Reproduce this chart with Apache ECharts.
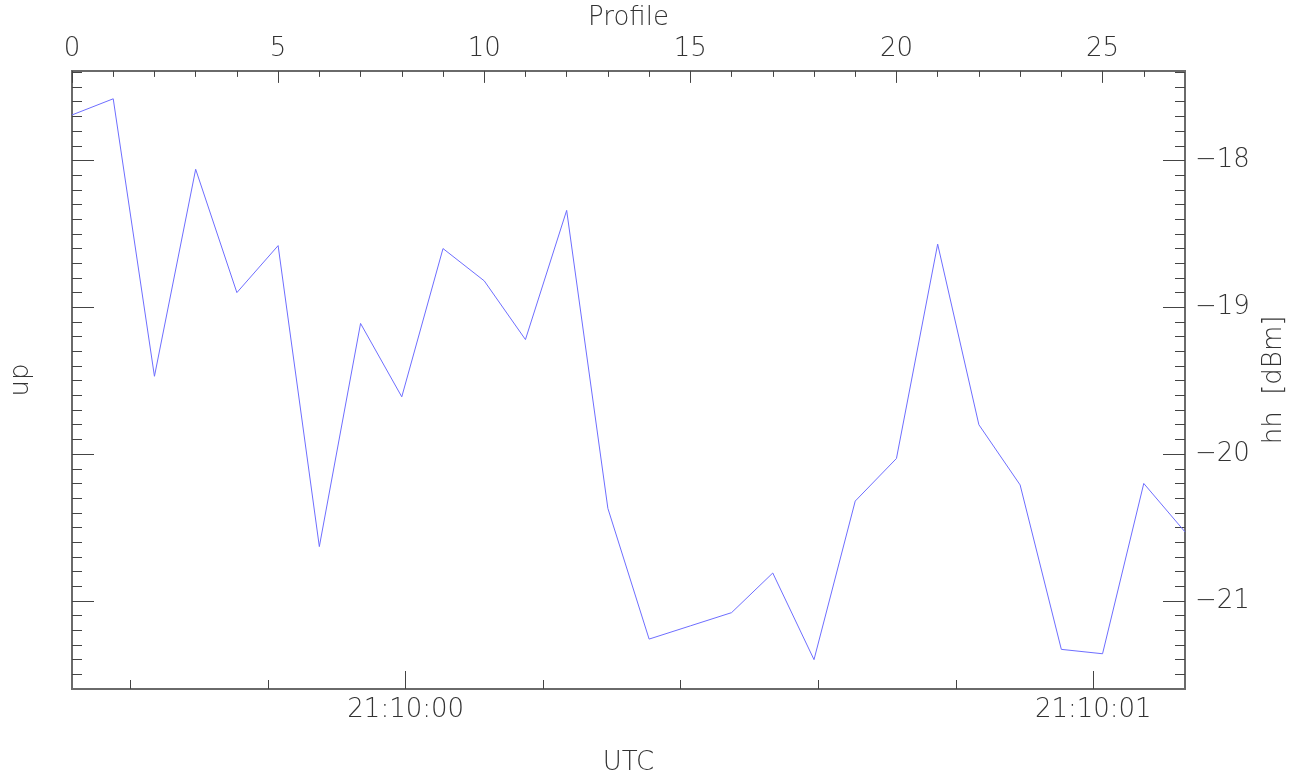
<!DOCTYPE html>
<html>
<head>
<meta charset="utf-8">
<title>Profile</title>
<script src="https://cdn.jsdelivr.net/npm/echarts@6/dist/echarts.min.js"></script>
<style>
    html, body { margin: 0; padding: 0; background: #fff; }
    #chart { width: 1308px; height: 781px; }
</style>
</head>
<body>
<div id="chart"></div>
<script>
    // profile index along the top axis
    var profiles = [0, 1, 2, 3, 4, 5, 6, 7, 8, 9, 10, 11, 12, 13, 14, 15, 16, 17, 18, 19, 20, 21, 22, 23, 24, 25, 26, 27];
    // hh power [dBm]
    var hhValues = [-17.69, -17.58, -19.47, -18.06, -18.90, -18.58, -20.63, -19.11, -19.61, -18.60,
        -18.82, -19.22, -18.34, -20.37, -21.26, -21.17, -21.08, -20.81, -21.40, -20.32,
        -20.03, -18.57, -19.80, -20.21, -21.33, -21.36, -20.20, -20.53];

    // tick labels
    var profileTicks = [0, 5, 10, 15, 20, 25];
    var profileMinorTicks = [1, 2, 3, 4, 6, 7, 8, 9, 11, 12, 13, 14, 16, 17, 18, 19, 21, 22, 23, 24, 26];
    var yMajorTicks = [-21, -20, -19, -18];
    var timeTicks = [0, 1];                     // seconds after 21:10:00
    var timeLabels = ['21:10:00', '21:10:01'];
    var timeMinorTicks = [-0.4, -0.2, 0.2, 0.4, 0.6, 0.8];

    var yMinorTicks = [];
    for (var v = -215; v <= -174; v++) {
        if (v % 10 !== 0) yMinorTicks.push(v / 10);
    }

    var FONT = 'DejaVu Sans';
    var FW = 200;
    var FS = 26;
    var TXT = '#333';
    var AXIS = '#6a6a6a';
    var TICK = '#444';

    function axisBase(extra) {
        var base = {
            type: 'value',
            splitLine: {show: false},
            axisLine: {show: true, onZero: false, lineStyle: {color: AXIS, width: 2}},
            nameTextStyle: {fontFamily: FONT, fontWeight: FW, fontSize: FS, color: TXT},
            axisLabel: {show: false}
        };
        return Object.assign(base, extra);
    }

    var chart = echarts.init(document.getElementById('chart'));
    var option = {
        animation: false,
        backgroundColor: '#fff',
        grid: {left: 72, top: 70, width: 1113, height: 622, containLabel: false},
        xAxis: [
            axisBase({
                position: 'top', min: 0, max: 27,
                name: 'Profile', nameLocation: 'middle', nameGap: 35,
                axisTick: {show: true, inside: true, length: 12, customValues: profileTicks,
                    lineStyle: {color: TICK, width: 1}},
                axisLabel: {show: true, customValues: profileTicks, margin: 9,
                    fontFamily: FONT, fontWeight: FW, fontSize: FS, color: TXT}
            }),
            axisBase({
                position: 'top', min: 0, max: 27,
                axisTick: {show: true, inside: true, length: 6, customValues: profileMinorTicks,
                    lineStyle: {color: TICK, width: 1}}
            }),
            axisBase({
                position: 'bottom', min: -0.4853, max: 1.1334,
                name: 'UTC', nameLocation: 'middle', nameGap: 61,
                axisTick: {show: true, inside: true, length: 18, customValues: timeTicks,
                    lineStyle: {color: TICK, width: 1}},
                axisLabel: {show: true, customValues: timeTicks, margin: 8,
                    fontFamily: FONT, fontWeight: FW, fontSize: FS, color: TXT,
                    formatter: function (val) {
                        return timeLabels[timeTicks.indexOf(Math.round(val))];
                    }}
            }),
            axisBase({
                position: 'bottom', min: -0.4853, max: 1.1334,
                axisTick: {show: true, inside: true, length: 9, customValues: timeMinorTicks,
                    lineStyle: {color: TICK, width: 1}}
            })
        ],
        yAxis: [
            axisBase({
                position: 'right', min: -21.6, max: -17.39,
                name: 'hh  [dBm]', nameLocation: 'middle', nameGap: 74, nameRotate: 90,
                axisTick: {show: true, inside: true, length: 22, customValues: yMajorTicks,
                    lineStyle: {color: TICK, width: 1}},
                axisLabel: {show: true, customValues: yMajorTicks, margin: 10,
                    fontFamily: FONT, fontWeight: FW, fontSize: FS, color: TXT,
                    formatter: function (val) { return '\u2212' + Math.abs(val); }}
            }),
            axisBase({
                position: 'right', min: -21.6, max: -17.39,
                axisTick: {show: true, inside: true, length: 10, customValues: yMinorTicks,
                    lineStyle: {color: TICK, width: 1}}
            }),
            axisBase({
                position: 'left', min: -21.6, max: -17.39,
                name: 'up', nameLocation: 'middle', nameGap: 38, nameRotate: 90,
                axisTick: {show: true, inside: true, length: 22, customValues: yMajorTicks,
                    lineStyle: {color: TICK, width: 1}}
            }),
            axisBase({
                position: 'left', min: -21.6, max: -17.39,
                axisTick: {show: true, inside: true, length: 10, customValues: yMinorTicks,
                    lineStyle: {color: TICK, width: 1}}
            })
        ],
        series: [
            {
                name: 'hh',
                type: 'line',
                xAxisIndex: 0,
                yAxisIndex: 0,
                data: profiles.map(function (p, i) { return [p, hhValues[i]]; }),
                showSymbol: false,
                symbol: 'none',
                lineStyle: {color: '#6e6eff', width: 1},
                clip: true
            }
        ]
    };
    chart.setOption(option, true);
    window.addEventListener('resize', chart.resize);
</script>
</body>
</html>
